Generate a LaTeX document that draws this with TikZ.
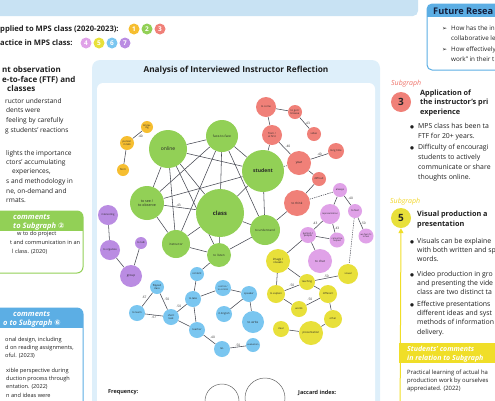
\documentclass[tikz,border=0pt]{standalone}
\usepackage{fontspec}
\setmainfont{Open Sans}
\newfontfamily\symf{DejaVu Sans}
\usetikzlibrary{arrows.meta}
\pgfdeclarelayer{back}
\pgfdeclarelayer{edges}
\pgfsetlayers{back,edges,main}
\definecolor{gnode}{RGB}{146,208,86}
\definecolor{rnode}{RGB}{240,128,120}
\definecolor{onode}{RGB}{246,190,48}
\definecolor{pnode}{RGB}{186,140,226}
\definecolor{lnode}{RGB}{224,162,232}
\definecolor{bnode}{RGB}{122,198,240}
\definecolor{ynode}{RGB}{232,224,58}
\definecolor{panel}{RGB}{222,239,250}
\definecolor{band}{RGB}{200,226,243}
\definecolor{hblue}{RGB}{92,174,228}
\definecolor{edgec}{RGB}{70,72,82}
\definecolor{sred}{RGB}{238,112,102}
\definecolor{syel}{RGB}{240,222,40}
\definecolor{navy}{RGB}{20,30,60}
\newcommand\myfs[1]{\fontsize{#1}{#1}\selectfont}
\begin{document}
\begin{tikzpicture}[x=1pt,y=-1pt,
  nd/.style={circle,inner sep=0pt,align=center,text=black!85,font=\myfs{2.6}},
  gn/.style={nd,fill=gnode},
  rn/.style={nd,fill=rnode},
  on/.style={nd,fill=onode},
  pn/.style={nd,fill=pnode},
  ln/.style={nd,fill=lnode},
  bn/.style={nd,fill=bnode},
  yn/.style={nd,fill=ynode},
  ed/.style={draw=edgec,line width=0.55pt},
  dsh/.style={ed,dash pattern=on 1.3pt off 1pt},
  lb/.style={font=\myfs{3.2},inner sep=0.6pt,text=black!80},
  tx/.style={anchor=base west,inner sep=0pt,text=black!88},
  body/.style={tx,font=\myfs{6.6}},
  rbody/.style={tx,font=\myfs{6.9}},
  bhd/.style={tx,font=\bfseries\myfs{8}},
  rhd/.style={tx,font=\bfseries\myfs{7.3}},
  cmt/.style={tx,font=\myfs{5.6}},
  bul/.style={tx,font=\symf\myfs{4.5}},
  num/.style={circle,inner sep=0pt,minimum size=11pt,text=white,font=\bfseries\myfs{6.5}},
  whd/.style={tx,text=white,font=\bfseries\itshape\myfs{7.5}}
]
\useasboundingbox (0,0) rectangle (495,400);
\begin{pgfonlayer}{back}
  % top band
  \fill[band,rounded corners=5] (-10,-8) rectangle (418,16);
  % middle panel
  \fill[panel,rounded corners=8] (92,60) rectangle (380,430);
  \fill[white,rounded corners=6] (97,83) rectangle (375,430);
  % green comment box
  \begin{scope}
    \clip[rounded corners=6] (-10,211) rectangle (83,273);
    \fill[white] (-10,211) rectangle (83,273);
    \fill[gnode] (-10,211) rectangle (83,231);
  \end{scope}
  \draw[gnode,line width=1pt,rounded corners=6] (-10,211) rectangle (83,273);
  % blue comment box
  \begin{scope}
    \clip[rounded corners=6] (-10,308) rectangle (83,430);
    \fill[white] (-10,308) rectangle (83,430);
    \fill[hblue] (-10,308) rectangle (83,328);
  \end{scope}
  \draw[hblue,line width=1pt,rounded corners=6] (-10,308) rectangle (83,430);
  % future research box
  \begin{scope}
    \clip[rounded corners=5] (427,4) rectangle (520,70);
    \fill[white] (427,4) rectangle (520,70);
    \fill[hblue] (427,4) rectangle (520,17);
  \end{scope}
  \draw[hblue,line width=1pt,rounded corners=5] (427,4) rectangle (520,70);
  % yellow comment header
  \fill[syel] (399,343) rectangle (520,363);
\end{pgfonlayer}

% ---------- top legend lines ----------
\node[tx,font=\bfseries\myfs{7.6}] (l1) at (0,31.5) {pplied to MPS class (2020-2023):};
\node[num,fill=onode] (c1) at (134,29) {1};
\node[num,fill=gnode] (c2) at (147,29) {2};
\node[num,fill=rnode] (c3) at (160,29) {3};
\node[tx,font=\bfseries\myfs{7.6}] (l2) at (0,45.5) {actice in MPS class:};
\node[num,fill=lnode] (c4) at (86,43) {4};
\node[num,fill=ynode] (c5) at (99,43) {5};
\node[num,fill=bnode] (c6) at (112,43) {6};
\node[num,fill=pnode] (c7) at (125,43) {7};

% ---------- left column ----------
\node[bhd] (h1) at (2,72.5) {nt observation};
\node[bhd] (h2) at (2,82) {e-to-face (FTF) and};
\node[bhd] (h3) at (7,91.5) {classes};
\node[body] (p1) at (5,103) {ructor understand};
\node[body] (p2) at (6,112.5) {dents were};
\node[body] (p3) at (6,122.5) {feeling by carefully};
\node[body] (p4) at (5,132.5) {g students' reactions};
\node[body] (p5) at (6,155) {lights the importance};
\node[body] (p6) at (6,164.5) {ctors' accumulating};
\node[body] (p7) at (12,173.5) {experiences,};
\node[body] (p8) at (6,183.5) {s and methodology in};
\node[body] (p9) at (6,193) {ne, on-demand and};
\node[body] (p10) at (6,202.5) {rmats.};

\node[whd] (g1) at (13,219.5) {comments};
\node[whd] (g2) at (13,228.5) {to Subgraph {\symf ②}};
\node[cmt] (g3) at (17,235.8) {w to do project};
\node[cmt] (g4) at (10,244.5) {t and communication in an};
\node[cmt] (g5) at (12,253.5) {l class. (2020)};

\node[whd] (u1) at (13,316) {comments};
\node[whd] (u2) at (3,325) {o to Subgraph {\symf ⑥}};
\node[cmt] (u3) at (5,341) {onal design, including};
\node[cmt] (u4) at (5,349) {d on reading assignments,};
\node[cmt] (u5) at (5,357) {oful. (2023)};
\node[cmt] (u6) at (6,372) {xible perspective during};
\node[cmt] (u7) at (6,380) {duction process through};
\node[cmt] (u8) at (6,388) {entation. (2022)};
\node[cmt] (u9) at (6,397.5) {n and ideas were};

% ---------- right column ----------
\node[tx,text=navy,font=\bfseries\myfs{9.2}] (fr) at (433,14) {Future Resea};
\node[bul,font=\symf\myfs{6}] (fa1) at (442,30) {➢};
\node[tx,font=\myfs{6.3}] (fb1) at (451,30) {How has the in};
\node[tx,font=\myfs{6.3}] (fb2) at (451,40) {collaborative le};
\node[bul,font=\symf\myfs{6}] (fa2) at (442,51) {➢};
\node[tx,font=\myfs{6.3}] (fb3) at (451,51) {How effectively};
\node[tx,font=\myfs{6.3}] (fb4) at (451,61) {work'' in their t};

\node[tx,text=sred,font=\itshape\myfs{7}] (s3) at (391,85.5) {Subgraph};
\node[num,fill=rnode,minimum size=20pt,text=black!85,font=\bfseries\myfs{10}] (n3) at (401,102) {3};
\node[rhd] (r1) at (420,95) {Application of};
\node[rhd] (r2) at (420,104.5) {the instructor's pri};
\node[rhd] (r3) at (420,114) {experience};
\node[bul] (rb1) at (410,128) {●};
\node[rbody] (r4) at (418,128.5) {MPS class has been ta};
\node[rbody] (r5) at (418,138) {FTF for 20+ years.};
\node[bul] (rb2) at (410,149) {●};
\node[rbody] (r6) at (418,149.5) {Difficulty of encouragi};
\node[rbody] (r7) at (418,159.5) {students to actively};
\node[rbody] (r8) at (418,169.5) {communicate or share};
\node[rbody] (r9) at (418,179.5) {thoughts online.};

\node[tx,text=syel!90!orange,font=\itshape\myfs{7}] (s5) at (390,203) {Subgraph};
\node[num,fill=ynode,minimum size=20pt,text=black!85,font=\bfseries\myfs{10}] (n5) at (401,218) {5};
\node[rhd] (v1) at (417,216.5) {Visual production a};
\node[rhd] (v2) at (417,226.5) {presentation};
\node[bul] (vb1) at (410,243) {●};
\node[rbody] (v3) at (417,243.5) {Visuals can be explaine};
\node[rbody] (v4) at (417,252.5) {with both written and sp};
\node[rbody] (v5) at (417,261.5) {words.};
\node[bul] (vb2) at (410,276) {●};
\node[rbody] (v6) at (417,276.5) {Video production in gro};
\node[rbody] (v7) at (417,285.5) {and presenting the vide};
\node[rbody] (v8) at (417,294.5) {class are two distinct ta};
\node[bul] (vb3) at (410,306) {●};
\node[rbody] (v9) at (417,306.5) {Effective presentations};
\node[rbody] (v10) at (417,315.5) {different ideas and syst};
\node[rbody] (v11) at (417,324.5) {methods of information};
\node[rbody] (v12) at (417,334) {delivery.};
\node[whd,font=\bfseries\itshape\myfs{7}] (y1) at (407,351) {Students' comments};
\node[whd,font=\bfseries\itshape\myfs{7}] (y2) at (407,360.5) {in relation to Subgraph};
\node[cmt,font=\myfs{5.9}] (y3) at (407,374.5) {Practical learning of actual ha};
\node[cmt,font=\myfs{5.9}] (y4) at (407,382.5) {production work by ourselves};
\node[cmt,font=\myfs{5.9}] (y5) at (407,390.5) {appreciated. (2022)};
\coordinate (yb) at (400,430);
\draw[syel,line width=1pt,-{Triangle[length=5pt,width=5pt]}] (yb) -- (n5);

% ---------- middle panel ----------
\node[font=\bfseries\myfs{8.3},text=black!88] (title) at (236,70) {Analysis of Interviewed Instructor Reflection};

% orange
\node[on,minimum size=12pt] (kn) at (147,127) {know-\\ing};
\node[on,minimum size=14pt] (pt) at (127,143) {person\\in talk};
\node[on,minimum size=12pt] (fm) at (123,170) {form};
% green
\node[gn,minimum size=38pt,font=\myfs{5}] (onl) at (168,149) {online};
\node[gn,minimum size=32pt,font=\myfs{3.3}] (ff) at (222,136) {face-to-face};
\node[gn,minimum size=42pt,font=\bfseries\myfs{5}] (st) at (263,171) {student};
\node[gn,minimum size=34pt,font=\myfs{3.6}] (see) at (147,203) {to see /\\to observe};
\node[gn,minimum size=48pt,font=\bfseries\myfs{5.8}] (cl) at (220,213) {class};
\node[gn,minimum size=28pt,font=\myfs{3}] (ins) at (176,244) {instructor};
\node[gn,minimum size=24pt,font=\myfs{3}] (li) at (219,255) {to listen};
\node[gn,minimum size=30pt,font=\myfs{3}] (un) at (265,230) {to understand};
% red
\node[rn,minimum size=20pt] (sm) at (266,107) {to come};
\node[rn,minimum size=14pt] (gb) at (295,112) {to get /\\browse};
\node[rn,minimum size=14pt] (vd) at (314,134) {video};
\node[rn,minimum size=20pt] (fa) at (272,135) {from /\\at first};
\node[rn,minimum size=24pt,font=\myfs{3.2}] (yr) at (299,163) {year};
\node[rn,minimum size=16pt] (lt) at (336,151) {long time};
\node[rn,minimum size=14pt] (df) at (319,179) {difficult};
\node[rn,minimum size=26pt,font=\myfs{3}] (th) at (297,203) {to think};
% lilac (right)
\node[ln,minimum size=14pt] (al) at (340,190) {always};
\node[ln,minimum size=14pt] (fl) at (355,211) {to feel};
\node[ln,minimum size=15pt,font=\myfs{2.2}] (wf) at (366,236) {we feel it's\\to feel};
\node[ln,minimum size=20pt,font=\myfs{2.3}] (rp) at (330,214) {representation};
\node[ln,minimum size=16pt] (pp) at (308,235) {person /\\people};
\node[ln,minimum size=15pt,font=\myfs{2.3}] (cb) at (337,240) {cannot be\\helped};
\node[ln,minimum size=24pt,font=\myfs{3}] (ch) at (320,261) {to chat};
% purple (left)
\node[pn,minimum size=20pt] (it) at (108,215) {interesting};
\node[pn,minimum size=20pt] (og) at (110,250) {to organize};
\node[pn,minimum size=12pt] (tk) at (141,243) {to talk};
\node[pn,minimum size=22pt,font=\myfs{3}] (gp) at (131,276) {group};
% blue
\node[bn,minimum size=14pt] (fc) at (157,287) {flipped\\class};
\node[bn,minimum size=16pt] (lr) at (137,313) {to learn};
\node[bn,minimum size=16pt] (sh) at (171,317) {short\\task};
\node[bn,minimum size=16pt] (tt) at (193,299) {to take};
\node[bn,minimum size=14pt] (ct) at (197,274) {content};
\node[bn,minimum size=16pt,font=\myfs{2.3}] (cn) at (223,288) {control /\\to control};
\node[bn,minimum size=16pt] (sp) at (249,294) {speaker};
\node[bn,minimum size=16pt] (ie) at (224,314) {in English};
\node[bn,minimum size=22pt,font=\myfs{3}] (wr) at (253,322) {to write};
\node[bn,minimum size=16pt] (te) at (197,330) {teacher};
\node[bn,minimum size=16pt] (gl) at (222,349) {GL};
\node[bn,minimum size=14pt,font=\myfs{2.3}] (ev) at (253,345) {evaluation};
% yellow
\node[yn,minimum size=24pt,font=\myfs{3}] (im) at (278,261) {image /\\visuals};
\node[yn,minimum size=16pt] (tc) at (307,282) {teaching};
\node[yn,minimum size=20pt] (vs) at (348,274) {visual};
\node[yn,minimum size=18pt] (ex) at (276,294) {to explain};
\node[yn,minimum size=18pt] (dr) at (328,294) {different};
\node[yn,minimum size=16pt] (wd) at (299,309) {words};
\node[yn,minimum size=18pt] (ot) at (333,319) {other};
\node[yn,minimum size=16pt] (cr) at (281,329) {clear};
\node[yn,minimum size=24pt,font=\myfs{2.8}] (pr) at (311,333) {presentation};

% legend at bottom
\node[tx,font=\bfseries\myfs{5.5}] (fq) at (108,393) {Frequency:};
\node[circle,draw=black!60,line width=0.5pt,minimum size=34pt,inner sep=0pt] (lc1) at (222,401) {};
\node[circle,draw=black!60,line width=0.5pt,minimum size=40pt,inner sep=0pt] (lc2) at (265,398) {};
\node[tx,font=\bfseries\myfs{5.5}] (jc) at (298,394) {Jaccard index:};

\begin{pgfonlayer}{edges}
  % orange
  \draw[ed] (kn) -- node[lb,below right] {.40} (pt);
  \draw[ed] (pt) -- (fm);
  % green
  \draw[ed] (onl) -- (ff);
  \draw[ed] (onl) -- (st);
  \draw[ed] (onl) -- (see);
  \draw[ed] (onl) -- (cl);
  \draw[ed] (onl) -- (ins);
  \draw[ed] (onl) -- (li);
  \draw[ed] (ff) -- (st);
  \draw[ed] (ff) -- (cl);
  \draw[ed] (ff) -- (see);
  \draw[ed] (ff) -- (ins);
  \draw[ed] (ff) -- (un);
  \draw[ed] (st) -- (cl);
  \draw[ed] (st) -- (see);
  \draw[ed] (st) -- (un);
  \draw[ed] (see) -- node[lb,above,pos=0.45] {.43} (cl);
  \draw[ed] (cl) -- (ins);
  \draw[ed] (cl) -- (li);
  \draw[ed] (cl) -- (un);
  \draw[ed] (see) -- (ins);
  \draw[ed] (ins) -- (li);
  \draw[ed] (li) -- (un);
  % red
  \draw[ed] (sm) -- (gb);
  \draw[ed] (gb) -- node[lb,right] {.43} (vd);
  \draw[ed] (sm) -- (fa);
  \draw[ed] (fa) -- (st);
  \draw[ed] (fa) -- node[lb,above right] {.40} (yr);
  \draw[ed] (yr) -- node[lb,above] {.40} (lt);
  \draw[ed] (yr) -- (df);
  \draw[ed] (df) -- (th);
  \draw[ed] (th) -- (un);
  \draw[dsh] (st) -- (yr);
  \draw[dsh] (th) -- (al);
  % lilac
  \draw[ed] (al) -- (rp);
  \draw[ed] (al) -- node[lb,above right] {.40} (fl);
  \draw[ed] (fl) -- node[lb,right] {.50} (wf);
  \draw[ed] (rp) -- node[lb,above left] {.43} (pp);
  \draw[ed] (rp) -- node[lb,right] {.43} (cb);
  \draw[ed] (pp) -- (cb);
  \draw[ed] (pp) -- (ch);
  \draw[ed] (pp) -- (im);
  \draw[dsh] (fl) -- (vs);
  % purple
  \draw[ed] (it) -- (og);
  \draw[ed] (og) -- (gp);
  \draw[ed] (tk) -- (gp);
  % blue
  \draw[ed] (fc) -- node[lb,above left] {.67} (lr);
  \draw[ed] (fc) -- node[lb,above right] {.50} (sh);
  \draw[ed] (lr) -- node[lb,below] {.67} (sh);
  \draw[ed] (sh) -- node[lb,above left] {.50} (tt);
  \draw[ed] (sh) -- (te);
  \draw[ed] (tt) -- (te);
  \draw[ed] (tt) -- (cn);
  \draw[ed] (ct) -- (tt);
  \draw[ed] (ct) -- (li);
  \draw[ed] (cn) -- (sp);
  \draw[ed] (sp) -- (ie);
  \draw[ed] (sp) -- (wr);
  \draw[ed] (te) -- node[lb,above right] {.40} (gl);
  \draw[ed] (gl) -- node[lb,above] {.50} (ev);
  % yellow
  \draw[ed] (im) -- (tc);
  \draw[ed] (im) -- (ex);
  \draw[ed] (tc) -- node[lb,above] {.50} (vs);
  \draw[ed] (ex) -- node[lb,above] {.50} (tc);
  \draw[ed] (tc) -- (dr);
  \draw[ed] (ex) -- (wd);
  \draw[ed] (wd) -- node[lb,above left] {.50} (dr);
  \draw[ed] (dr) -- (ot);
  \draw[ed] (ot) -- (pr);
  \draw[ed] (cr) -- (pr);
\end{pgfonlayer}
\end{tikzpicture}
\end{document}
